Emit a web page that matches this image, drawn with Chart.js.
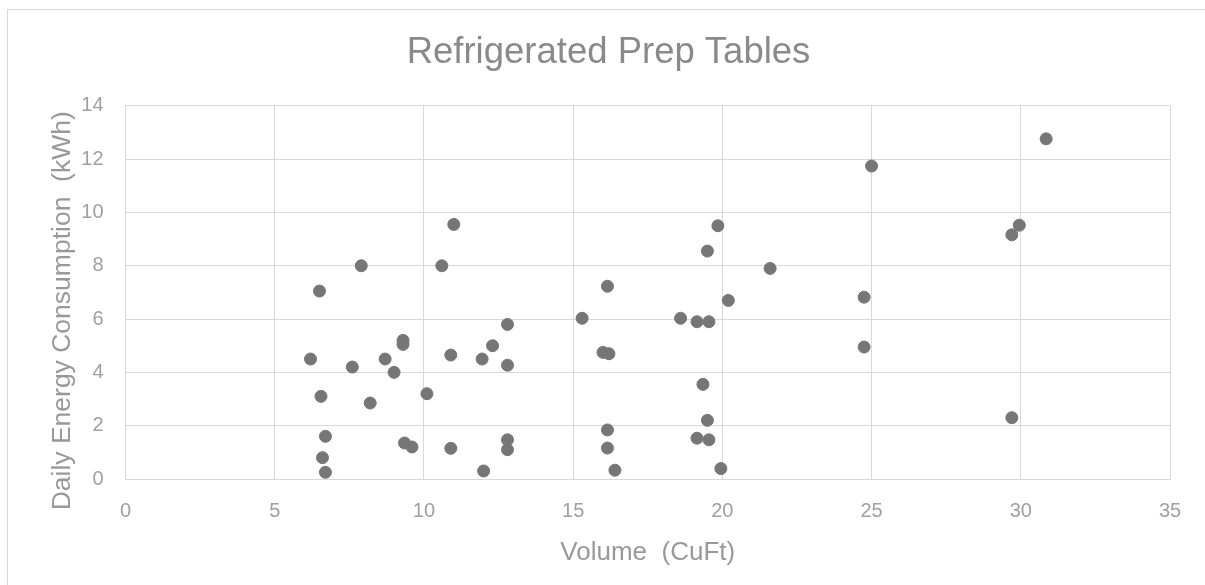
<!DOCTYPE html>
<html>
<head>
<meta charset="utf-8">
<title>Refrigerated Prep Tables</title>
<script src="https://cdn.jsdelivr.net/npm/chart.js@4"></script>
<style>
  html, body { margin: 0; padding: 0; background: #fff; overflow: hidden; }
  #frame {
    position: absolute; left: 7px; top: 9px; width: 1300px; height: 700px;
    border: 1px solid #d9d9d9;
  }
  #wrap { position: absolute; left: 0; top: 0; width: 1205px; height: 585px; }
</style>
</head>
<body>
<div id="frame"></div>
<div id="wrap"><canvas id="prepChart" width="1205" height="585"></canvas></div>
<script>
// Volume (CuFt) of each unit
const volume = [
  7.9, 10.6, 6.5, 12.8, 9.3, 9.3, 6.2, 7.6, 8.7, 9.0,
  10.9, 12.3, 11.95, 12.8, 6.55, 8.2, 10.1, 6.7, 9.35, 9.6,
  10.9, 12.8, 12.8, 6.6, 6.7, 12.0, 11.0, 19.85, 19.5, 21.6,
  16.15, 20.2, 15.3, 18.6, 19.15, 19.55, 16.0, 16.2, 19.35, 19.5,
  16.15, 19.15, 19.55, 16.15, 16.4, 19.95, 30.85, 25.0, 29.95, 29.7,
  24.75, 24.75, 29.7
];
// Daily energy consumption (kWh), same order
const energy = [
  8.0, 8.0, 7.05, 5.8, 5.2, 5.05, 4.5, 4.2, 4.5, 4.0,
  4.65, 5.0, 4.5, 4.27, 3.1, 2.85, 3.2, 1.6, 1.35, 1.2,
  1.15, 1.47, 1.1, 0.8, 0.25, 0.3, 9.55, 9.5, 8.55, 7.9,
  7.23, 6.7, 6.03, 6.03, 5.9, 5.9, 4.75, 4.7, 3.55, 2.2,
  1.84, 1.53, 1.47, 1.16, 0.33, 0.39, 12.76, 11.74, 9.52, 9.16,
  6.82, 4.95, 2.3
];

const xTicks = [0, 5, 10, 15, 20, 25, 30, 35];
const yTicks = [0, 2, 4, 6, 8, 10, 12, 14];

const points = volume.map((v, i) => ({ x: v, y: energy[i] }));
const gridColor = '#d9d9d9';
const font = 'Liberation Sans, Arial, sans-serif';

new Chart(document.getElementById('prepChart'), {
  type: 'scatter',
  data: {
    datasets: [{
      label: 'Daily Energy Consumption',
      data: points,
      backgroundColor: '#767676',
      borderColor: '#767676',
      pointRadius: 6,
      pointHoverRadius: 6
    }]
  },
  options: {
    responsive: false,
    animation: false,
    layout: { padding: { left: 47, right: 35, top: 10, bottom: 0 } },
    plugins: {
      legend: { display: false },
      tooltip: { enabled: false },
      title: {
        display: true,
        text: 'Refrigerated Prep Tables',
        color: '#8a8a8a',
        font: { family: font, size: 36.5, weight: 'normal' },
        padding: { top: 21, bottom: 31 }
      }
    },
    scales: {
      x: {
        type: 'linear',
        min: xTicks[0],
        max: xTicks[xTicks.length - 1],
        afterBuildTicks: s => { s.ticks = xTicks.map(v => ({ value: v })); },
        afterFit: s => { s.height = 106; },
        grid: { color: gridColor, drawTicks: false },
        border: { color: gridColor },
        ticks: { color: '#a0a0a0', padding: 20, font: { family: font, size: 20 } },
        title: {
          display: true,
          text: 'Volume  (CuFt)',
          color: '#999999',
          font: { family: font, size: 26 },
          padding: { top: 0, bottom: 17 }
        }
      },
      y: {
        type: 'linear',
        min: yTicks[0],
        max: yTicks[yTicks.length - 1],
        afterBuildTicks: s => { s.ticks = yTicks.map(v => ({ value: v })); },
        afterFit: s => { s.width = 78.5; },
        grid: { color: gridColor, drawTicks: false },
        border: { color: gridColor },
        ticks: { color: '#a0a0a0', padding: 22, font: { family: font, size: 20 } },
        title: {
          display: true,
          // trailing spaces nudge the label down a little, like the original
          text: 'Daily Energy Consumption  (kWh)     ',
          color: '#999999',
          font: { family: font, size: 26.5 },
          padding: { top: 0, bottom: 0 }
        }
      }
    }
  }
});
</script>
</body>
</html>
